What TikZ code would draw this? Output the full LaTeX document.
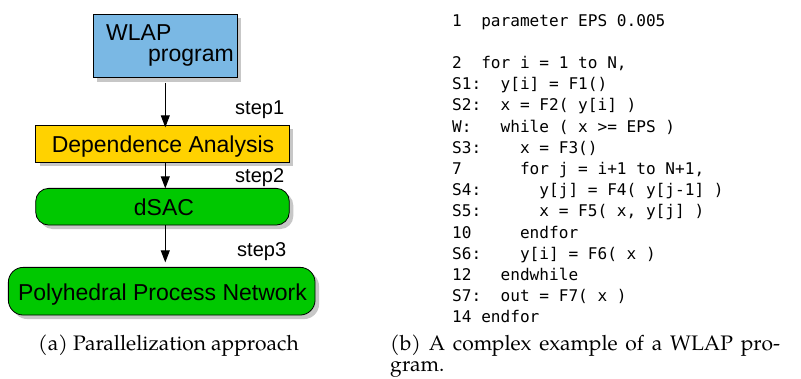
\documentclass[tikz,border=0pt]{standalone}
\usepackage{fontspec}
\newfontfamily\diagfont{Liberation Sans}
\newfontfamily\codefont{DejaVu Sans Mono}
\newfontfamily\capfont{TeX Gyre Pagella}
\usetikzlibrary{arrows.meta,shadows}

\definecolor{wlapblue}{HTML}{7AB8E4}
\definecolor{dagold}{HTML}{FFD200}
\definecolor{procgreen}{HTML}{00C800}

\begin{document}
\begin{tikzpicture}[x=1pt,y=-1pt,
  box/.style={draw=black, line width=0.8pt, inner sep=0pt, outer sep=0pt,
    drop shadow={shadow xshift=4pt, shadow yshift=-4pt, fill=black!22, opacity=1}},
  lbl/.style={font=\diagfont\fontsize{23}{27}\selectfont, inner sep=0pt, anchor=base},
  steplbl/.style={font=\diagfont\fontsize{20}{24}\selectfont, inner sep=0pt, anchor=base west},
  arr/.style={-{Triangle[length=12pt,width=9pt]}, line width=0.9pt},
  code/.style={font=\codefont\fontsize{16.1}{19}\selectfont\frenchspacing, inner sep=0pt, anchor=base west},
  captext/.style={font=\capfont\fontsize{21}{25}\selectfont, inner sep=0pt, anchor=base}]
\useasboundingbox (0,0) rectangle (801,378);

% ---- tool flow ----
\node[box, fill=wlapblue, minimum width=144pt, minimum height=63.4pt] (wlap) at (165.3,46) {};
\node[lbl, anchor=base west] (wlapA) at (106,40) {WLAP};
\node[lbl, anchor=base east] (wlapB) at (234,61.7) {program};

\node[box, fill=dagold, minimum width=253.6pt, minimum height=37pt] (da) at (162.5,143.8) {};
\node[lbl] (daT) at (163,152.3) {Dependence Analysis};

\node[box, fill=procgreen, rounded corners=13pt, minimum width=253.6pt, minimum height=36.7pt] (dsac) at (162.5,206.7) {};
\node[lbl] (dsacT) at (164,215) {dSAC};

\node[box, fill=procgreen, rounded corners=15pt, minimum width=306.7pt, minimum height=47.7pt] (ppn) at (161.7,291.2) {};
\node[lbl] (ppnT) at (162.5,300) {Polyhedral Process Network};

\draw[arr, shorten <=5pt, shorten >=-2pt] (wlap.south) -- (wlap.south |- da.north);
\draw[arr] (wlap.south |- da.south) -- (wlap.south |- dsac.north);
\draw[arr, shorten >=5pt] (wlap.south |- dsac.south) -- (wlap.south |- ppn.north);

\node[steplbl] (s1) at (235,114.5) {step1};
\node[steplbl] (s2) at (235,182.3) {step2};
\node[steplbl] (s3) at (237,256.7) {step3};

\node[captext] (capa) at (168.5,350) {(a) Parallelization approach};

% ---- program listing ----
\node[code] (c1)  at (452,26.5)  {1\ \ parameter EPS 0.005};
\node[code] (c2)  at (452,68.4)  {2\ \ for i = 1 to N,};
\node[code] (c3)  at (452,89.6)  {S1:\ \ y[i] = F1()};
\node[code] (c4)  at (452,110.8) {S2:\ \ x = F2( y[i] )};
\node[code] (c5)  at (452,132)   {W:\ \ \ while ( x >= EPS )};
\node[code] (c6)  at (452,153.2) {S3:\ \ \ \ x = F3()};
\node[code] (c7)  at (452,174.4) {7\ \ \ \ \ \ for j = i+1 to N+1,};
\node[code] (c8)  at (452,195.6) {S4:\ \ \ \ \ \ y[j] = F4( y[j-1] )};
\node[code] (c9)  at (452,216.8) {S5:\ \ \ \ \ \ x = F5( x, y[j] )};
\node[code] (c10) at (452,238)   {10\ \ \ \ \ endfor};
\node[code] (c11) at (452,259.2) {S6:\ \ \ \ y[i] = F6( x )};
\node[code] (c12) at (452,280.4) {12\ \ \ endwhile};
\node[code] (c13) at (452,301.6) {S7:\ \ out = F7( x )};
\node[code] (c14) at (452,322.8) {14 endfor};

\node[captext, anchor=base west] (capb) at (390,350) {\makebox[390pt][s]{(b) A complex example of a WLAP pro-}};
\node[captext, anchor=base west] (capb2) at (390,371) {gram.};
\end{tikzpicture}
\end{document}
